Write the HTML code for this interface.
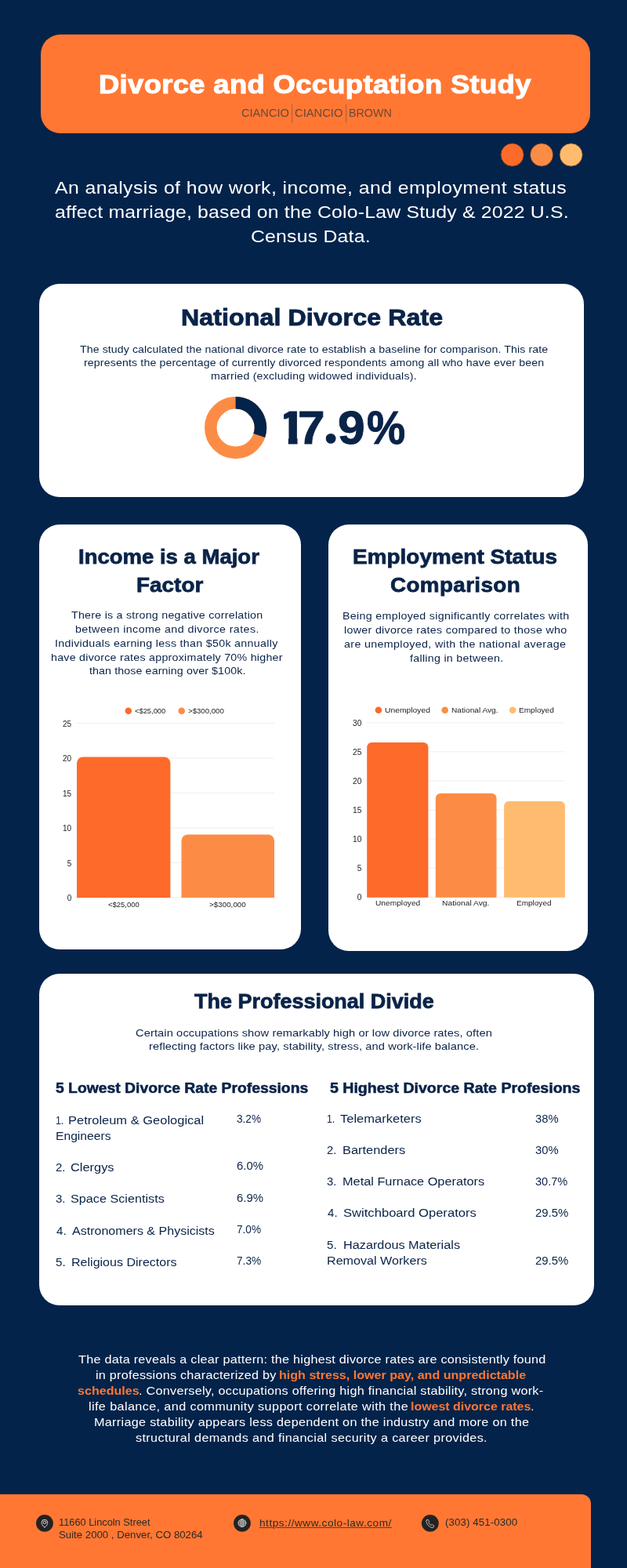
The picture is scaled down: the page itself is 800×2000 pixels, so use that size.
<!DOCTYPE html>
<html lang="en">
<head>
<meta charset="utf-8">
<meta name="viewport" content="width=800">
<title>Divorce and Occupation Study</title>
<style>
*{margin:0;padding:0;box-sizing:border-box}
html,body{width:800px;height:2000px;overflow:hidden}
body{background:#03234a;font-family:"Liberation Sans",sans-serif;position:relative}
h1,h2,h3,p,ol,li,figure,address,b,strong{font:inherit;list-style:none}
.t{position:absolute;display:block;white-space:nowrap;line-height:1;transform-origin:0 50%}
.pre{white-space:pre}
.stat{position:absolute;white-space:nowrap;font-size:0;line-height:0}
.stat .t{position:static;display:inline-block;vertical-align:baseline}
.box,.card{position:absolute}
.card{background:#fff;border-radius:26px}
.hero{left:52.2px;top:44.2px;width:700.5px;height:125.4px;border-radius:25px;background:#ff7733}
.foot{left:0;top:1906px;width:754px;height:100px;border-radius:0 12px 0 0;background:#ff7733}
.url u{text-decoration:underline;text-decoration-thickness:1.2px;text-underline-offset:1px;text-decoration-color:rgba(42,42,42,.75)}
.yl{position:absolute;display:block;width:40px;white-space:nowrap;line-height:1;text-align:right;color:#222222}
.y2{font-size:10px}.y3{font-size:10.2px}
svg{position:absolute;left:0;top:0;overflow:visible}
.h1{font-size:34px;font-weight:700;color:#ffffff;-webkit-text-stroke:1.02px #ffffff}
.logo{font-size:13.8px;font-weight:400;color:#6a4a3a}
.lead{font-size:22.95px;font-weight:400;color:#ffffff}
.h2a{font-size:30px;font-weight:700;color:#0a2348;-webkit-text-stroke:0.9px #0a2348}
.h2{font-size:26px;font-weight:700;color:#0a2348;-webkit-text-stroke:0.78px #0a2348}
.h3{font-size:19px;font-weight:700;color:#0a2348;-webkit-text-stroke:0.57px #0a2348}
.p1{font-size:13.1px;font-weight:400;color:#0a2348}
.p2{font-size:13.2px;font-weight:400;color:#0a2348}
.p4{font-size:13.6px;font-weight:400;color:#0a2348}
.big{font-size:59.5px;font-weight:700;color:#0a2348;-webkit-text-stroke:0.9px #0a2348}
.dot{font-size:88px;font-weight:700;color:#0a2348;-webkit-text-stroke:0.9px #0a2348}
.lg2{font-size:9px;font-weight:400;color:#222222}
.lg3{font-size:9.5px;font-weight:400;color:#222222}
.li{font-size:15.4px;font-weight:400;color:#0a2348}
.pc{font-size:15.4px;font-weight:400;color:#0a2348}
.cw{font-size:15.0px;font-weight:400;color:#ffffff}
.co{font-size:15.0px;font-weight:700;color:#ff7733}
.ft{font-size:12.3px;font-weight:400;color:#2a2a2a}
.fu{font-size:12.6px;font-weight:400;color:#2a2a2a}
</style>
</head>
<body>
<header>
<div class="box hero"></div>
<h1><span class="t h1" style="left:125.50px;top:90px;letter-spacing:0.322px;transform:scaleX(1.0700)">Divorce and Occuptation Study</span></h1>
<p class="brand"><span class="t logo" style="left:307.70px;top:138px;transform:scaleX(1.0589)">CIANCIO</span> <span class="t logo" style="left:375.90px;top:138px;transform:scaleX(1.0679)">CIANCIO</span> <span class="t logo" style="left:444.90px;top:138px;transform:scaleX(1.0353)">BROWN</span></p>
<svg width="800" height="2000" viewBox="0 0 800 2000" role="img" aria-label="decoration"><path d="M372.7 133V157M441.5 133V157" stroke="#6a4a3a" stroke-width="1" opacity=".55"/><circle cx="653.6" cy="197.5" r="14.7" fill="#fd6a2a" stroke="#3a2a20" stroke-width="0.8"/><circle cx="691.05" cy="197.5" r="14.7" fill="#fc8c45" stroke="#3a2a20" stroke-width="0.8"/><circle cx="728.6" cy="197.5" r="14.7" fill="#ffbc6e" stroke="#3a2a20" stroke-width="0.8"/></svg>
</header>
<p class="intro"><span class="t lead pre" style="left:69.80px;top:228px;letter-spacing:0.410px;transform:scaleX(1.0800)">An analysis of how work, income, and employment status </span><span class="t lead pre" style="left:69.70px;top:259px;letter-spacing:0.195px;transform:scaleX(1.0800)">affect marriage, based on the Colo-Law Study &amp; 2022 U.S. </span><span class="t lead" style="left:320.40px;top:290px;letter-spacing:0.204px;transform:scaleX(1.0800)">Census Data.</span></p>
<main>
<section>
<div class="card" style="left:50px;top:362px;width:695px;height:272.3px"></div>
<h2><span class="t h2a" style="left:230.50px;top:390px;letter-spacing:0.105px;transform:scaleX(1.0700)">National Divorce Rate</span></h2>
<p><span class="t p1 pre" style="left:102.00px;top:439px;letter-spacing:0.083px;transform:scaleX(1.0800)">The study calculated the national divorce rate to establish a baseline for comparison. This rate </span><span class="t p1 pre" style="left:107.00px;top:456px;letter-spacing:0.132px;transform:scaleX(1.0800)">represents the percentage of currently divorced respondents among all who have ever been </span><span class="t p1" style="left:269.00px;top:473px;letter-spacing:0.208px;transform:scaleX(1.0800)">married (excluding widowed individuals).</span></p>
<svg width="800" height="2000" viewBox="0 0 800 2000" role="img" aria-label="donut chart"><circle cx="300.6" cy="545.6" r="31.8" fill="none" stroke="#fc8c45" stroke-width="15.6"/><path d="M300.6 513.8A31.8 31.8 0 0 1 330.81 555.53" fill="none" stroke="#03234a" stroke-width="15.6"/></svg>
<div class="stat" style="left:352.70px;top:492px"><span class="t big" style="margin-left:0.00px;transform:scaleX(1.1500);clip-path:polygon(7.9px 0,23.1px 0,23.1px 100%,12.9px 100%,12.9px 18.4px,7.9px 18.4px)">1</span><span class="t big" style="margin-left:-5.59px;transform:scaleX(1.0449)">7</span><span class="t dot" style="margin-left:-4.39px;transform:scaleX(1.1295);clip-path:ellipse(5.67px 6.4px at 11.60px 67.40px)">.</span><span class="t big" style="margin-left:-2.05px;transform:scaleX(1.0484)">9</span><span class="t big" style="margin-left:3.21px;transform:scaleX(0.9296)">%</span></div>
</section>
<section>
<div class="card" style="left:50px;top:668.5px;width:334.2px;height:542px"></div>
<h2><span class="t h2 pre" style="left:100.00px;top:697px;transform:scaleX(1.0581)">Income is a Major </span><span class="t h2" style="left:173.50px;top:733px;letter-spacing:0.045px;transform:scaleX(1.0700)">Factor</span></h2>
<p><span class="t p2 pre" style="left:91.20px;top:778px;letter-spacing:0.226px;transform:scaleX(1.0800)">There is a strong negative correlation </span><span class="t p2 pre" style="left:95.70px;top:796px;letter-spacing:0.392px;transform:scaleX(1.0800)">between income and divorce rates. </span><span class="t p2 pre" style="left:70.20px;top:814px;letter-spacing:0.280px;transform:scaleX(1.0800)">Individuals earning less than $50k annually </span><span class="t p2 pre" style="left:64.70px;top:832px;letter-spacing:0.231px;transform:scaleX(1.0800)">have divorce rates approximately 70% higher </span><span class="t p2" style="left:113.70px;top:849px;letter-spacing:0.096px;transform:scaleX(1.0800)">than those earning over $100k.</span></p>
<figure>
<svg width="800" height="2000" viewBox="0 0 800 2000" role="img" aria-label="bar chart"><path d="M98 922.5H350" stroke="#efefef"/><path d="M98 967.0H350" stroke="#efefef"/><path d="M98 1011.5H350" stroke="#efefef"/><path d="M98 1056.0H350" stroke="#efefef"/><path d="M98 1100.5H350" stroke="#efefef"/><path d="M98 1145.0H350" stroke="#efefef"/><path d="M98 1145V973.4a8 8 0 0 1 8 -8H209.4a8 8 0 0 1 8 8V1145Z" fill="#fd6a2a"/><path d="M231.5 1145V1072.4a8 8 0 0 1 8 -8H342a8 8 0 0 1 8 8V1145Z" fill="#fc8c45"/><circle cx="163.8" cy="906.7" r="4.3" fill="#fd6a2a"/><circle cx="231.7" cy="906.7" r="4.3" fill="#fc8c45"/></svg>
<div class="legend"><span class="t lg2" style="left:172.20px;top:903px;transform:scaleX(1.0393)">&lt;$25,000</span> <span class="t lg2" style="left:239.50px;top:903px;transform:scaleX(1.0707)">&gt;$300,000</span></div>
<div class="axis"><span class="yl y2" style="left:51.2px;top:919px">25</span><span class="yl y2" style="left:51.2px;top:963px">20</span><span class="yl y2" style="left:51.2px;top:1008px">15</span><span class="yl y2" style="left:51.2px;top:1052px">10</span><span class="yl y2" style="left:51.2px;top:1097px">5</span><span class="yl y2" style="left:51.2px;top:1141px">0</span></div><div class="axis"><span class="t lg2" style="left:137.80px;top:1150px;transform:scaleX(1.0503)">&lt;$25,000</span> <span class="t lg2" style="left:267.00px;top:1150px;letter-spacing:0.060px;transform:scaleX(1.0800)">&gt;$300,000</span></div>
</figure>
</section>
<section>
<div class="card" style="left:419px;top:668.5px;width:331px;height:544px"></div>
<h2><span class="t h2 pre" style="left:449.60px;top:697px;letter-spacing:0.078px;transform:scaleX(1.0700)">Employment Status </span><span class="t h2" style="left:497.60px;top:733px;letter-spacing:0.350px;transform:scaleX(1.0700)">Comparison</span></h2>
<p><span class="t p2 pre" style="left:436.80px;top:779px;letter-spacing:0.294px;transform:scaleX(1.0800)">Being employed significantly correlates with </span><span class="t p2 pre" style="left:439.00px;top:797px;letter-spacing:0.292px;transform:scaleX(1.0800)">lower divorce rates compared to those who </span><span class="t p2 pre" style="left:439.40px;top:815px;letter-spacing:0.337px;transform:scaleX(1.0800)">are unemployed, with the national average </span><span class="t p2" style="left:522.80px;top:833px;letter-spacing:0.261px;transform:scaleX(1.0800)">falling in between.</span></p>
<figure>
<svg width="800" height="2000" viewBox="0 0 800 2000" role="img" aria-label="bar chart"><path d="M468.2 921.8H720.9" stroke="#efefef"/><path d="M468.2 958.9H720.9" stroke="#efefef"/><path d="M468.2 996.0H720.9" stroke="#efefef"/><path d="M468.2 1033.1H720.9" stroke="#efefef"/><path d="M468.2 1070.2H720.9" stroke="#efefef"/><path d="M468.2 1107.3H720.9" stroke="#efefef"/><path d="M468.2 1144.4H720.9" stroke="#efefef"/><path d="M468.2 1144.8V953a6 6 0 0 1 6 -6H540.4a6 6 0 0 1 6 6V1144.8Z" fill="#fd6a2a"/><path d="M555.8 1144.8V1017.9a6 6 0 0 1 6 -6H627.5a6 6 0 0 1 6 6V1144.8Z" fill="#fc8c45"/><path d="M643.1 1144.8V1028.1a6 6 0 0 1 6 -6H714.9a6 6 0 0 1 6 6V1144.8Z" fill="#ffbc6e"/><circle cx="482.9" cy="905.8" r="4.3" fill="#fd6a2a"/><circle cx="567.7" cy="905.8" r="4.3" fill="#fc8c45"/><circle cx="654.2" cy="905.8" r="4.3" fill="#ffbc6e"/></svg>
<div class="legend"><span class="t lg3" style="left:490.60px;top:901px;transform:scaleX(1.0848)">Unemployed</span> <span class="t lg3" style="left:575.60px;top:901px;transform:scaleX(1.0667)">National Avg.</span> <span class="t lg3" style="left:661.70px;top:901px;transform:scaleX(1.0611)">Employed</span></div>
<div class="axis"><span class="yl y3" style="left:421.4px;top:918px">30</span><span class="yl y3" style="left:421.4px;top:955px">25</span><span class="yl y3" style="left:421.4px;top:992px">20</span><span class="yl y3" style="left:421.4px;top:1029px">15</span><span class="yl y3" style="left:421.4px;top:1066px">10</span><span class="yl y3" style="left:421.4px;top:1103px">5</span><span class="yl y3" style="left:421.4px;top:1140px">0</span></div><div class="axis"><span class="t lg3" style="left:478.80px;top:1147px;transform:scaleX(1.0732)">Unemployed</span> <span class="t lg3" style="left:564.20px;top:1147px;letter-spacing:0.006px;transform:scaleX(1.0800)">National Avg.</span> <span class="t lg3" style="left:659.00px;top:1147px;transform:scaleX(1.0537)">Employed</span></div>
</figure>
</section>
<section>
<div class="card" style="left:50px;top:1242px;width:707.8px;height:422.5px"></div>
<h2><span class="t h2" style="left:247.50px;top:1264px;transform:scaleX(1.0374)">The Professional Divide</span></h2>
<p><span class="t p4 pre" style="left:172.75px;top:1311px;letter-spacing:0.083px;transform:scaleX(1.0800)">Certain occupations show remarkably high or low divorce rates, often </span><span class="t p4" style="left:190.25px;top:1328px;letter-spacing:0.083px;transform:scaleX(1.0800)">reflecting factors like pay, stability, stress, and work-life balance.</span></p>
<div class="col"><h3><span class="t h3" style="left:71.20px;top:1378px;transform:scaleX(1.0171)">5 Lowest Divorce Rate Professions</span></h3>
<ol>
<li><span class="t li pre" style="left:70.50px;top:1421px;transform:scaleX(0.8000)">1.  </span><span class="t li pre" style="left:86.75px;top:1421px;transform:scaleX(1.0706)">Petroleum &amp; Geological </span><span class="t li pre" style="left:70.90px;top:1441px;transform:scaleX(1.0177)">Engineers</span> <b class="t pc" style="left:302.40px;top:1419px;transform:scaleX(0.8853)">3.2%</b></li>
<li><span class="t li pre" style="left:70.90px;top:1481px;transform:scaleX(0.9738)">2.  </span><span class="t li pre" style="left:89.90px;top:1481px;transform:scaleX(1.0647)">Clergys</span> <b class="t pc" style="left:302.40px;top:1479px;transform:scaleX(0.9655)">6.0%</b></li>
<li><span class="t li pre" style="left:70.90px;top:1521px;transform:scaleX(0.9738)">3.  </span><span class="t li pre" style="left:90.40px;top:1521px;transform:scaleX(1.0527)">Space Scientists</span> <b class="t pc" style="left:302.40px;top:1520px;transform:scaleX(0.9655)">6.9%</b></li>
<li><span class="t li pre" style="left:71.60px;top:1562px;transform:scaleX(0.9818)">4.  </span><span class="t li pre" style="left:91.90px;top:1562px;transform:scaleX(1.0420)">Astronomers &amp; Physicists</span> <b class="t pc" style="left:302.40px;top:1560px;transform:scaleX(0.8853)">7.0%</b></li>
<li><span class="t li pre" style="left:70.90px;top:1602px;transform:scaleX(0.9833)">5.  </span><span class="t li pre" style="left:90.90px;top:1602px;transform:scaleX(1.0422)">Religious Directors</span> <b class="t pc" style="left:302.40px;top:1600px;transform:scaleX(0.8886)">7.3%</b></li>
</ol></div><div class="col"><h3><span class="t h3" style="left:421.20px;top:1378px;transform:scaleX(1.0290)">5 Highest Divorce Rate Profesions</span></h3>
<ol>
<li><span class="t li pre" style="left:417.00px;top:1419px;transform:scaleX(0.8000)">1.  </span><span class="t li pre" style="left:433.75px;top:1419px;transform:scaleX(1.0734)">Telemarketers</span> <b class="t pc" style="left:683.40px;top:1419px;transform:scaleX(0.9590)">38%</b></li>
<li><span class="t li pre" style="left:417.30px;top:1459px;transform:scaleX(0.9645)">2.  </span><span class="t li pre" style="left:436.80px;top:1459px;transform:scaleX(1.0649)">Bartenders</span> <b class="t pc" style="left:683.40px;top:1459px;transform:scaleX(0.9590)">30%</b></li>
<li><span class="t li pre" style="left:417.30px;top:1499px;transform:scaleX(0.9645)">3.  </span><span class="t li pre" style="left:436.80px;top:1499px;transform:scaleX(1.0589)">Metal Furnace Operators</span> <b class="t pc" style="left:683.40px;top:1499px;transform:scaleX(0.9429)">30.7%</b></li>
<li><span class="t li pre" style="left:418.00px;top:1539px;transform:scaleX(0.9818)">4.  </span><span class="t li pre" style="left:437.70px;top:1539px;transform:scaleX(1.0788)">Switchboard Operators</span> <b class="t pc" style="left:683.40px;top:1539px;transform:scaleX(0.9667)">29.5%</b></li>
<li><span class="t li pre" style="left:417.30px;top:1580px;transform:scaleX(0.9833)">5.  </span><span class="t li pre" style="left:437.70px;top:1580px;transform:scaleX(1.0557)">Hazardous Materials </span><span class="t li pre" style="left:417.30px;top:1600px;transform:scaleX(1.0475)">Removal Workers</span> <b class="t pc" style="left:683.40px;top:1600px;transform:scaleX(0.9667)">29.5%</b></li>
</ol></div></section>
<p class="outro"><span class="t cw pre" style="left:100.00px;top:1726px;letter-spacing:0.228px;transform:scaleX(1.0800)">The data reveals a clear pattern: the highest divorce rates are consistently found </span><span class="t cw pre" style="left:122.20px;top:1746px;letter-spacing:0.220px;transform:scaleX(1.0800)">in professions characterized by </span><strong class="t co pre" style="left:356.20px;top:1746px;letter-spacing:0.013px;transform:scaleX(1.0700)">high stress, lower pay, and unpredictable </strong><strong class="t co" style="left:99.00px;top:1766px;letter-spacing:0.019px;transform:scaleX(1.0700)">schedules</strong><span class="t cw" style="left:177.20px;top:1766px;letter-spacing:0.245px;transform:scaleX(1.0800)">. Conversely, occupations offering high financial stability, strong work-</span><span class="t cw pre" style="left:113.00px;top:1786px;letter-spacing:0.357px;transform:scaleX(1.0800)">life balance, and community support correlate with the </span><strong class="t co" style="left:523.80px;top:1786px;transform:scaleX(1.0629)">lowest divorce rates</strong><span class="t cw pre" style="left:677.20px;top:1786px">. </span><span class="t cw pre" style="left:119.80px;top:1806px;letter-spacing:0.281px;transform:scaleX(1.0800)">Marriage stability appears less dependent on the industry and more on the </span><span class="t cw" style="left:173.40px;top:1826px;letter-spacing:0.328px;transform:scaleX(1.0800)">structural demands and financial security a career provides.</span></p>
</main>
<footer>
<div class="box foot"></div>
<svg width="800" height="2000" viewBox="0 0 800 2000" role="img" aria-label="contact icons"><circle cx="56.95" cy="1942.9" r="10.9" fill="#232323"/><circle cx="308.95" cy="1942.9" r="10.9" fill="#232323"/><circle cx="548.85" cy="1942.9" r="10.9" fill="#232323"/><g fill="none" stroke="#fff" stroke-width=".9" stroke-linecap="round" stroke-linejoin="round" opacity=".88"><path d="M56.9 1947.9C56.5 1947.9 56.1 1947.6 55.7 1947.2C54.2 1945.7 53.05 1944.1 53.05 1942.1A3.85 3.85 0 0 1 60.75 1942.1C60.75 1944.1 59.6 1945.7 58.1 1947.2C57.7 1947.6 57.3 1947.9 56.9 1947.9Z"/><circle cx="56.9" cy="1941.9" r="1.8"/></g><circle cx="56.9" cy="1941.9" r=".8" fill="#000"/><g fill="none" stroke="#fff" stroke-width=".8" stroke-linecap="round" stroke-linejoin="round" opacity=".85"><circle cx="308.9" cy="1942.7" r="4.9"/><ellipse cx="308.9" cy="1942.7" rx="2.1" ry="4.9"/><path d="M304 1942.7h9.8M304.7 1940.3h8.4M304.7 1945.1h8.4M308.9 1937.8v9.8"/><path d="M544.3 1939.1l1.6-1 1.9 2.7-1.1 1.2c.7 1.5 1.8 2.7 3.3 3.5l1.2-1 2.7 1.8-.9 1.7c-.5.6-1.2.8-1.9.6-3.8-1.1-6.5-4.1-7.3-7.9-.1-.6.1-1.2.5-1.6z"/></g></svg>
<address><span class="t ft pre" style="left:75.00px;top:1936px;transform:scaleX(1.0406)">11660 Lincoln Street </span><span class="t ft" style="left:75.00px;top:1952px;transform:scaleX(1.0746)">Suite 2000 , Denver, CO 80264</span></address>
<p><span class="t fu url" style="left:330.75px;top:1937px;letter-spacing:0.485px;transform:scaleX(1.0800)"><u>https://www.colo-law.com/</u></span></p>
<p><span class="t ft" style="left:567.80px;top:1936px;letter-spacing:0.097px;transform:scaleX(1.0800)">(303) 451-0300</span></p>
</footer>
</body>
</html>
